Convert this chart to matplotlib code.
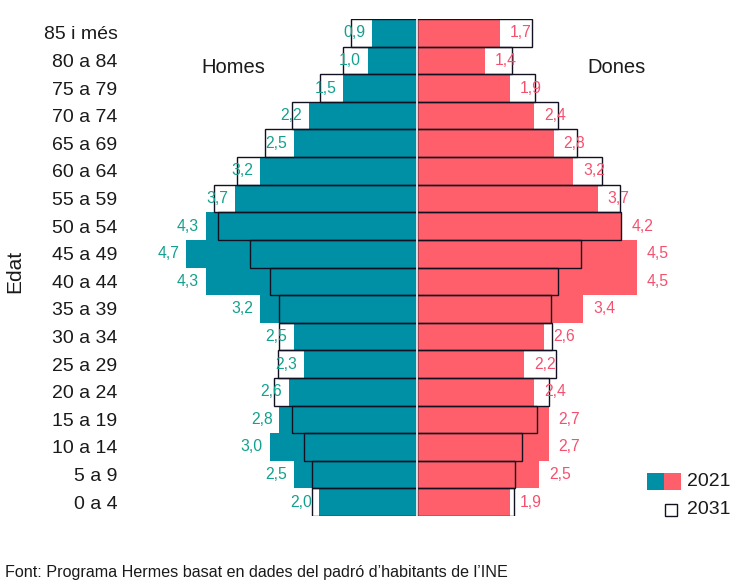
import numpy as np
import matplotlib.pyplot as plt
from matplotlib.patches import Rectangle

plt.rcParams['font.family'] = ['Liberation Sans', 'DejaVu Sans']

# age groups, bottom to top
edats = ['0 a 4', '5 a 9', '10 a 14', '15 a 19', '20 a 24', '25 a 29', '30 a 34',
         '35 a 39', '40 a 44', '45 a 49', '50 a 54', '55 a 59', '60 a 64',
         '65 a 69', '70 a 74', '75 a 79', '80 a 84', '85 i més']

homes_2021 = [2.0, 2.5, 3.0, 2.8, 2.6, 2.3, 2.5, 3.2, 4.3, 4.7, 4.3, 3.7, 3.2, 2.5, 2.2, 1.5, 1.0, 0.9]
dones_2021 = [1.9, 2.5, 2.7, 2.7, 2.4, 2.2, 2.6, 3.4, 4.5, 4.5, 4.2, 3.7, 3.2, 2.8, 2.4, 1.9, 1.4, 1.7]

homes_2031 = [2.13, 2.14, 2.29, 2.55, 2.91, 2.83, 2.81, 2.81, 2.99, 3.40, 4.05, 4.13, 3.66, 3.09, 2.55, 1.97, 1.50, 1.34]
dones_2031 = [1.98, 2.02, 2.15, 2.46, 2.70, 2.85, 2.76, 2.74, 2.89, 3.36, 4.18, 4.15, 3.79, 3.27, 2.88, 2.41, 1.95, 2.36]

teal = '#0090A6'
pink = '#FF5F6A'
teal_txt = '#13A08E'
pink_txt = '#F5506E'

W, H = 740, 583
fig = plt.figure(figsize=(W / 100, H / 100), dpi=100)
# axes: x 130..700 px, y 19..516 px
ax = fig.add_axes([130 / W, (H - 516) / H, 570 / W, 497 / H])

y = np.arange(len(edats))
h = np.array(homes_2021)
d = np.array(dones_2021)

ax.barh(y, -h, height=1, color=teal, zorder=1)
ax.barh(y, d, height=1, color=pink, zorder=1)
ax.barh(y, -np.array(homes_2031), height=1, fill=False, edgecolor='#111122', linewidth=1, zorder=2)
ax.barh(y, np.array(dones_2031), height=1, fill=False, edgecolor='#111122', linewidth=1, zorder=2)
ax.axvline(0, color='white', linewidth=1.2, zorder=3)

for i in range(len(edats)):
    ax.text(-h[i] - 0.14, y[i], f'{h[i]:.1f}'.replace('.', ','), ha='right', va='center',
            fontsize=11.3, color=teal_txt, zorder=4)
    ax.text(d[i] + 0.2, y[i], f'{d[i]:.1f}'.replace('.', ','), ha='left', va='center',
            fontsize=11.3, color=pink_txt, zorder=4)

ax.set_xlim(-(416.5 - 130) / 49, (700 - 416.5) / 49)
ax.set_ylim(-0.5, len(edats) - 0.5)
ax.set_yticks(y)
ax.set_yticklabels(edats, fontsize=14, color='#1a1a1a')
ax.tick_params(axis='y', length=0, pad=9)
ax.set_xticks([])
for s in ax.spines.values():
    s.set_visible(False)

ax.text(-3.74, 15.73, 'Homes', ha='center', va='center', fontsize=14.5, color='#1a1a1a')
ax.text(4.09, 15.73, 'Dones', ha='center', va='center', fontsize=14.5, color='#1a1a1a')

fig.text(15 / W, 1 - 271 / H, 'Edat', rotation=90, ha='center', va='center', fontsize=15, color='#1a1a1a')

# legend
fig.patches.append(Rectangle((647 / W, 1 - 490 / H), 17 / W, 17 / H, transform=fig.transFigure,
                             facecolor=teal, edgecolor='none'))
fig.patches.append(Rectangle((664 / W, 1 - 490 / H), 17 / W, 17 / H, transform=fig.transFigure,
                             facecolor=pink, edgecolor='none'))
fig.text(687 / W, 1 - 481 / H, '2021', ha='left', va='center', fontsize=14, color='#1a1a1a')
fig.patches.append(Rectangle((665 / W, 1 - 516 / H), 12 / W, 12 / H, transform=fig.transFigure,
                             facecolor='white', edgecolor='#111122', linewidth=1))
fig.text(687 / W, 1 - 510 / H, '2031', ha='left', va='center', fontsize=14, color='#1a1a1a')

fig.text(5 / W, 1 - 572 / H, "Font: Programa Hermes basat en dades del padró d’habitants de l’INE",
         ha='left', va='center', fontsize=11.6, color='#1a1a1a')

fig.savefig('out.png', dpi=100)
